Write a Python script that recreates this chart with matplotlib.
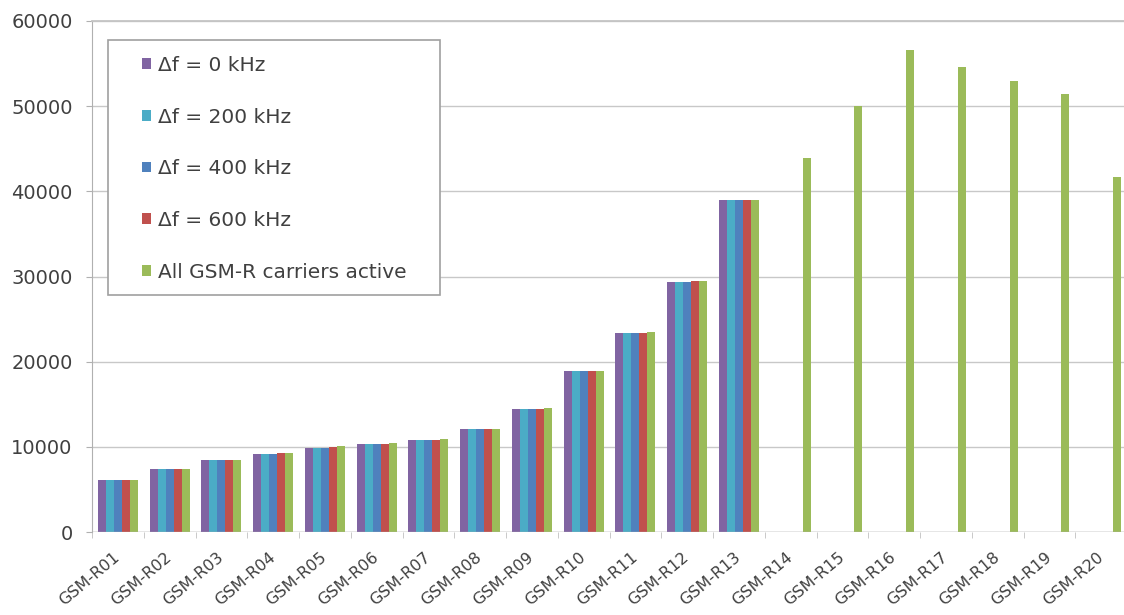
import numpy as np
import matplotlib
matplotlib.use("Agg")
import matplotlib.pyplot as plt
import matplotlib.transforms as mtransforms
from matplotlib.patches import Patch, Rectangle

categories = [f"GSM-R{i:02d}" for i in range(1, 21)]
series_names = ["\u0394f = 0 kHz", "\u0394f = 200 kHz", "\u0394f = 400 kHz",
                "\u0394f = 600 kHz", "All GSM-R carriers active"]
df0 = [6050, 7350, 8400, 9200, 9900, 10300, 10750, 12050, 14450, 18850, 23350, 29400, 38950] + [None]*7
df200 = [6050, 7350, 8400, 9200, 9900, 10300, 10750, 12050, 14450, 18850, 23350, 29400, 38950] + [None]*7
df400 = [6050, 7350, 8400, 9200, 9900, 10300, 10750, 12050, 14450, 18850, 23350, 29400, 38950] + [None]*7
df600 = [6100, 7400, 8450, 9250, 9950, 10350, 10800, 12100, 14500, 18900, 23400, 29450, 39000] + [None]*7
all_active = [6150, 7450, 8500, 9300, 10050, 10400, 10900, 12150, 14550, 18950, 23450, 29500, 39000,
              43900, 50000, 56650, 54550, 52950, 51450, 41700]
colors = ["#8064A2", "#4BACC6", "#4F81BD", "#C0504D", "#9BBB59"]
yticks = [0, 10000, 20000, 30000, 40000, 50000, 60000]

series = [df0, df200, df400, df600, all_active]

W, H = 1124, 615
fig = plt.figure(figsize=(W/100, H/100), dpi=100)
L, R, B, T = 92/W, 1127/W, 1 - 532/H, 1 - 21/H
ax = fig.add_axes([L, B, R - L, T - B])

x = np.arange(len(categories))
bw = 0.155
for k, (vals, c) in enumerate(zip(series, colors)):
    v = np.array([np.nan if s is None else s for s in vals], dtype=float)
    ax.bar(x + (k - 2) * bw, v, width=bw, color=c, linewidth=0, zorder=3)

ax.set_xlim(-0.5, len(categories) - 0.5)
ax.set_ylim(0, 60000)
ax.set_yticks(yticks)
ax.set_yticklabels([str(t) for t in yticks], fontsize=14, color="#404040")
ax.grid(axis="y", color="#C8C8C8", linewidth=1, zorder=0)
ax.set_xticks(x)
ax.set_xticklabels(categories, rotation=40, ha="right", va="center",
                   rotation_mode="anchor", fontsize=11.5, color="#404040")
offset = mtransforms.ScaledTranslation(6/100, 0, fig.dpi_scale_trans)
for lbl in ax.get_xticklabels():
    lbl.set_transform(lbl.get_transform() + offset)
ax.set_xticks(np.arange(-0.5, len(categories)), minor=True)
ax.tick_params(axis="x", which="major", length=0, pad=17)
ax.tick_params(axis="x", which="minor", length=4, color="#C0C0C0")
ax.tick_params(axis="y", length=4, color="#B0B0B0", pad=10)
for s in ["right", "bottom"]:
    ax.spines[s].set_visible(False)
ax.spines["top"].set_color("#C4C4C4")
ax.spines["top"].set_linewidth(1.3)
ax.spines["left"].set_color("#B0B0B0")
ax.axhline(0, color="#B0B0B0", linewidth=1, zorder=4)

# legend frame
ax.add_patch(Rectangle((108/W, 1 - 295/H), 332/W, 255/H, transform=fig.transFigure,
                       facecolor="white", edgecolor="#A0A0A0", linewidth=1.2, zorder=5,
                       clip_on=False))
handles = [Patch(facecolor=c, edgecolor="none") for c in colors]
leg = ax.legend(handles, series_names, loc="upper left",
                bbox_to_anchor=(142/W, 1 - 56/H), bbox_transform=fig.transFigure,
                borderaxespad=0, borderpad=0, fontsize=14.5, frameon=False,
                handlelength=0.45, handleheight=0.45, handletextpad=0.35,
                labelspacing=1.62)
leg.set_zorder(6)
for t in leg.get_texts():
    t.set_color("#404040")

fig.savefig("out.png", dpi=100)
